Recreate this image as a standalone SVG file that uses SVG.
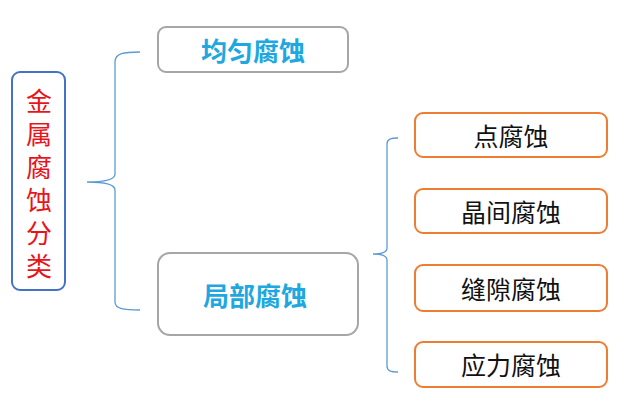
<svg xmlns="http://www.w3.org/2000/svg" width="626" height="415" viewBox="0 0 626 415">
<style>
.t{font-family:"Noto Sans CJK SC","Noto Sans CJK JP",sans-serif;text-anchor:middle;dominant-baseline:central}
.main{fill:#fff;stroke:#4472C4;stroke-width:2}
.gray{fill:#fff;stroke:#A6A6A6;stroke-width:2}
.orange{fill:#fff;stroke:#ED7D31;stroke-width:2}
.blue{fill:#1FA8E0;font-weight:bold;font-size:26px}
.black{fill:#111;font-size:25px}
.red{fill:#E8141C;font-size:26px;writing-mode:vertical-rl;letter-spacing:7px}
.brace{fill:none;stroke:#5B9BD5;stroke-width:1.3}
</style>
<rect width="626" height="415" fill="#fff"/>
<g id="connectors">
<path class="brace" d="M140,52 C124,52 115,53 115,62 L115,174 C115,180 105,182 87,182 C105,182 115,184 115,190 L115,302 C115,309 124,310 140,310"/>
<path class="brace" d="M398,138 C391,138 387,139 387,144 L387,248 C387,252 382,254 373,254 C382,254 387,256 387,260 L387,366 C387,371 391,372 398,372"/>
</g>
<g id="node-root">
<rect class="main" x="12" y="72" width="53" height="218" rx="8"/>
<text class="t red" x="39" y="187">金属腐蚀分类</text>
</g>
<g id="node-uniform">
<rect class="gray" x="158" y="27" width="190" height="45" rx="8"/>
<text class="t blue" x="253" y="49">均匀腐蚀</text>
</g>
<g id="node-local">
<rect class="gray" x="158" y="253" width="200" height="82" rx="12"/>
<text class="t blue" x="255" y="294">局部腐蚀</text>
</g>
<g id="node-pitting">
<rect class="orange" x="415" y="113" width="192" height="44" rx="8"/>
<text class="t black" x="511" y="135">点腐蚀</text>
</g>
<g id="node-intergranular">
<rect class="orange" x="415" y="189" width="192" height="44" rx="8"/>
<text class="t black" x="511" y="211">晶间腐蚀</text>
</g>
<g id="node-crevice">
<rect class="orange" x="415" y="265" width="192" height="46" rx="8"/>
<text class="t black" x="511" y="288">缝隙腐蚀</text>
</g>
<g id="node-stress">
<rect class="orange" x="415" y="342" width="192" height="45" rx="8"/>
<text class="t black" x="511" y="364">应力腐蚀</text>
</g>
</svg>
